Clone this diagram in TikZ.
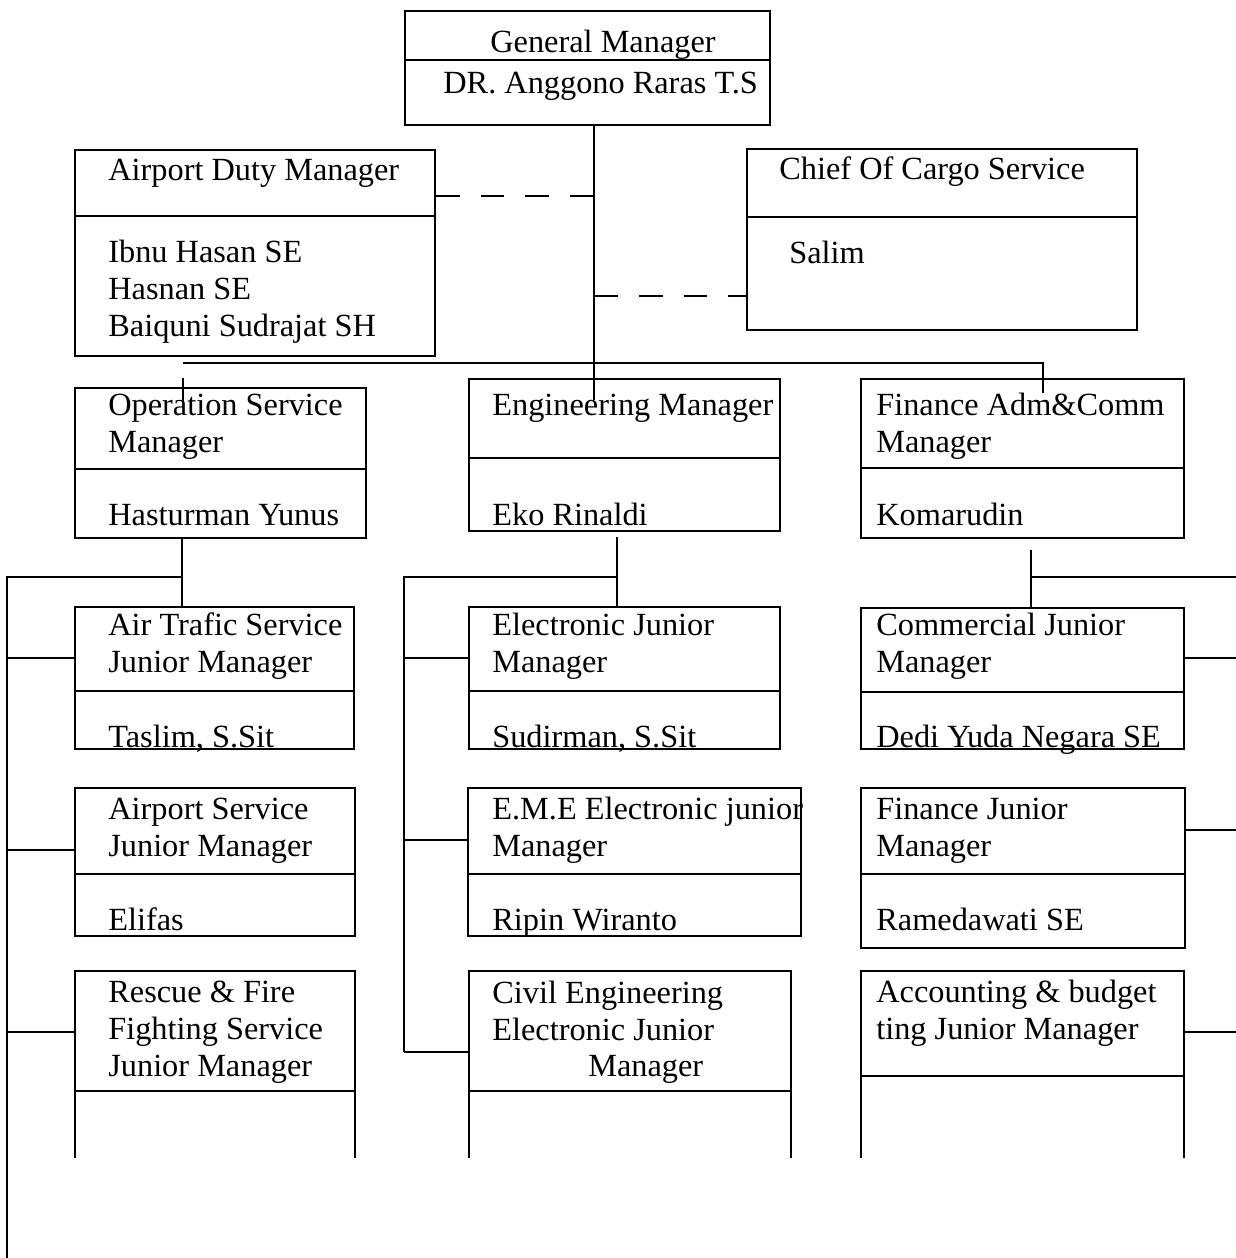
\documentclass[tikz,border=0pt]{standalone}
\usepackage{fontspec}
\setmainfont{Liberation Serif}
\usetikzlibrary{fit}

\begin{document}
\begin{tikzpicture}[
    x=0.02cm, y=-0.02cm,
    box/.style={draw, line width=1pt, inner sep=0pt},
    openbox/.style={inner sep=0pt},
    txt/.style={anchor=base west, inner sep=0pt, align=left, font=\fontsize{18.4}{20.9}\selectfont},
    conn/.style={line width=1pt},
    dashline/.style={line width=1pt, dash pattern=on 13.5pt off 12pt}
]
    \useasboundingbox (0,0) rectangle (1236,1258);

    % Boxes
    \node[box, fit={(405,11) (770,125)}] (gm) {};
    \node[box, fit={(75,150) (435,356)}] (adm) {};
    \node[box, fit={(747,149) (1137,330)}] (cargo) {};
    \node[box, fit={(75,388) (366,538)}] (ops) {};
    \node[box, fit={(469,379) (780,531)}] (eng) {};
    \node[box, fit={(861,379) (1184,538)}] (fin) {};
    \node[box, fit={(75,607) (354,749)}] (ats) {};
    \node[box, fit={(469,607) (780,749)}] (elec) {};
    \node[box, fit={(861,608) (1184,749)}] (comm) {};
    \node[box, fit={(75,788) (355,936)}] (asv) {};
    \node[box, fit={(468,788) (801,936)}] (eme) {};
    \node[box, fit={(861,788) (1185,948)}] (finj) {};
    \node[openbox, fit={(75,971) (355,1158)}] (resc) {};
    \node[openbox, fit={(469,971) (791,1158)}] (civil) {};
    \node[openbox, fit={(861,971) (1184,1158)}] (acct) {};
    \foreach \n in {resc, civil, acct}
        \draw[conn] (\n.south west) -- (\n.north west) -- (\n.north east) -- (\n.south east);

    % Dividers
    \foreach \n/\y in {gm/60, adm/216, cargo/217, ops/469, eng/458, fin/468, ats/691, elec/691, comm/692,
                       asv/874, eme/874, finj/874, resc/1091, civil/1091, acct/1076}
        \draw[conn] (\n.west |- 0,\y) -- (\n.east |- 0,\y);

    % Texts (multi-line nodes sit on their last baseline)
    \node[txt] (gmtitle) at (490,52) {General Manager};
    \node[txt] (gmname) at (443,93) {DR. Anggono Raras T.S};
    \node[txt] (admtitle) at (108,180) {Airport Duty Manager};
    \node[txt] (admname) at (108,336) {Ibnu Hasan SE\\Hasnan SE\\Baiquni Sudrajat SH};
    \node[txt] (cargotitle) at (779,179) {Chief Of Cargo Service};
    \node[txt] (cargoname) at (789,263) {Salim};
    \node[txt] (opstitle) at (108,452) {Operation Service\\Manager};
    \node[txt] (opsname) at (108,525) {Hasturman Yunus};
    \node[txt] (engtitle) at (492,415) {Engineering Manager};
    \node[txt] (engname) at (492,525) {Eko Rinaldi};
    \node[txt] (fintitle) at (876,452) {Finance Adm\&Comm\\Manager};
    \node[txt] (finname) at (876,525) {Komarudin};
    \node[txt] (atstitle) at (108,672) {Air Trafic Service\\Junior Manager};
    \node[txt] (atsname) at (108,747) {Taslim, S.Sit};
    \node[txt] (electitle) at (492,672) {Electronic Junior\\Manager};
    \node[txt] (elecname) at (492,747) {Sudirman, S.Sit};
    \node[txt] (commtitle) at (876,672) {Commercial Junior\\Manager};
    \node[txt] (commname) at (876,747) {Dedi Yuda Negara SE};
    \node[txt] (asvtitle) at (108,856) {Airport Service\\Junior Manager};
    \node[txt] (asvname) at (108,930) {Elifas};
    \node[txt] (emetitle) at (492,856) {E.M.E Electronic junior\\Manager};
    \node[txt] (emename) at (492,930) {Ripin Wiranto};
    \node[txt] (finjtitle) at (876,856) {Finance Junior\\Manager};
    \node[txt] (finjname) at (876,930) {Ramedawati SE};
    \node[txt] (resctitle) at (108,1076) {Rescue \& Fire\\Fighting Service\\Junior Manager};
    \node[txt] (civiltitle) at (492,1040) {Civil Engineering\\Electronic Junior};
    \node[txt] (civilmgr) at (588,1076) {Manager};
    \node[txt] (accttitle) at (876,1039) {Accounting \& budget\\ting Junior Manager};

    % Connections
    \coordinate (trunk) at (594,400);
    \draw[conn] (gm.south -| trunk) -- (trunk);
    \draw[dashline] (trunk |- 0,196) -- (adm.east |- 0,196);
    \draw[dashline] (trunk |- 0,296) -- (cargo.west |- 0,296);
    \coordinate (busl) at (183,363);
    \coordinate (busr) at (1043,363);
    \draw[conn] (busl) -- (busr) -- (busr |- 0,393);
    \draw[conn] (busl |- 0,378) -- (busl |- 0,402);

    \draw[conn] (ops.south -| 182,0) -- (ats.north -| 182,0);
    \draw[conn] (182,577) -- (7,577) -- (7,1258);
    \foreach \n/\y in {ats/658, asv/850, resc/1032}
        \draw[conn] (7,\y) -- (\n.west |- 0,\y);

    \draw[conn] (617,537) -- (elec.north -| 617,0);
    \draw[conn] (617,577) -- (404,577) -- (404,1052);
    \foreach \n/\y in {elec/658, eme/840, civil/1052}
        \draw[conn] (404,\y) -- (\n.west |- 0,\y);

    \draw[conn] (1031,550) -- (comm.north -| 1031,0);
    \draw[conn] (1031,577) -- (1236,577);
    \foreach \n/\y in {comm/658, finj/830, acct/1032}
        \draw[conn] (\n.east |- 0,\y) -- (1236,\y);
\end{tikzpicture}
\end{document}
